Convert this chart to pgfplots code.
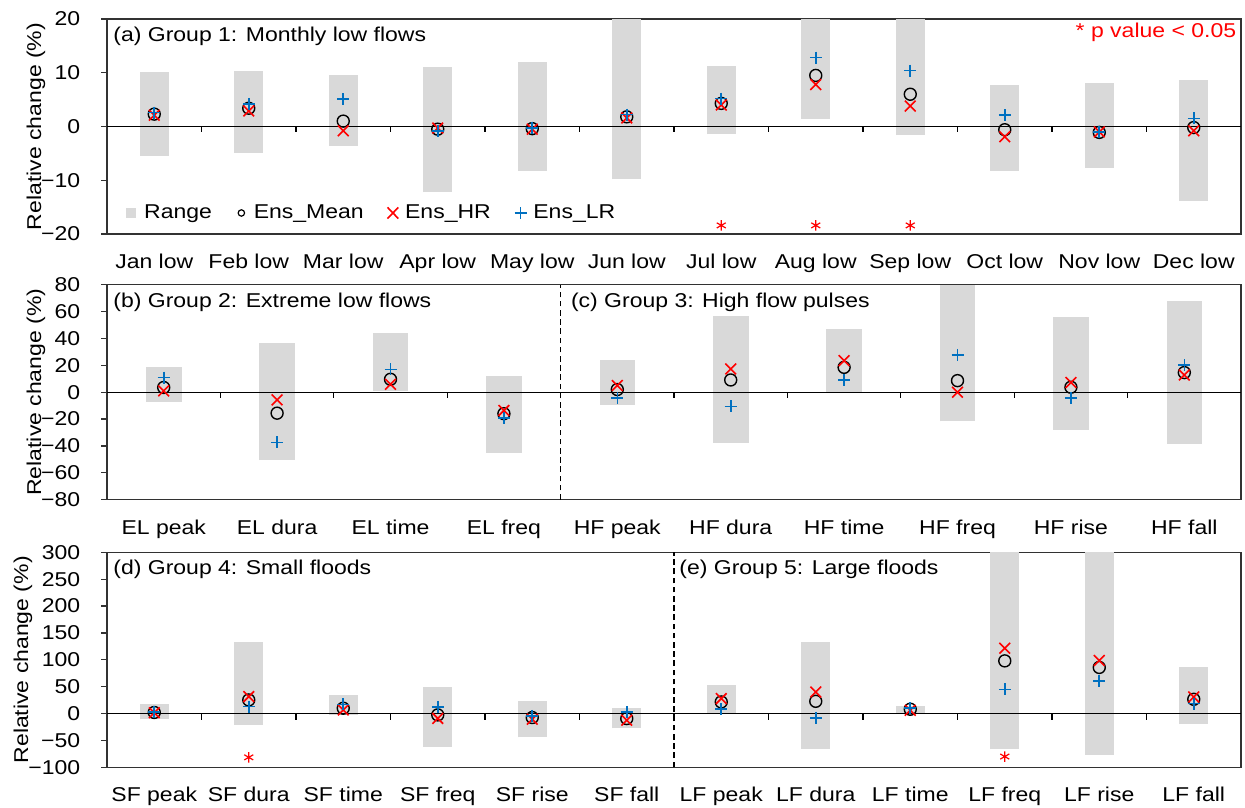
\documentclass[border=0pt]{standalone}
\usepackage{pgfplots}
\pgfplotsset{compat=1.18}
\usepackage{pgfplotstable}
\usepackage{fontspec}
\setmainfont[FakeStretch=1.15]{Liberation Sans}
\definecolor{rangegray}{RGB}{217,217,217}
\definecolor{ensblue}{RGB}{0,112,192}
\definecolor{ensred}{RGB}{255,0,0}
\definecolor{framecol}{RGB}{50,50,50}

% x lo hi mean hr lr
\pgfplotstableread{
x lo hi mean hr lr
1 -5.4 10.2 2.3 2.1 2.6
2 -4.9 10.3 3.4 2.9 4.2
3 -3.6 9.5 1.0 -0.8 5.1
4 -12.2 11.0 -0.5 -0.3 -0.8
5 -8.2 12.0 -0.4 -0.5 -0.3
6 -9.8 20 1.8 1.6 2.2
7 -1.4 11.2 4.3 4.0 5.2
8 1.4 20 9.5 7.8 12.8
9 -1.6 20 6.0 3.8 10.4
10 -8.2 7.8 -0.6 -1.9 2.1
11 -7.7 8.1 -1.1 -1.0 -1.0
12 -13.8 8.6 -0.2 -0.8 1.5
}\gone
\pgfplotstableread{
x y
7 -18.4
8 -18.4
9 -18.4
}\sigone
\pgfplotstableread{
x lo hi mean hr lr
1 -7.2 19 3.5 1.0 10.9
2 -50.6 36.3 -15.6 -5.7 -37.3
3 1.0 44.4 9.6 5.9 17.0
4 -45 11.9 -16 -13.6 -19.3
5 -9.4 24 2.0 5.0 -4.5
6 -37.5 56.8 9.1 17.3 -10.6
7 0.5 47.4 18.5 23.5 9.1
8 -21.7 80 8.6 0 27.7
9 -28.1 56 3.7 7.2 -4.4
10 -38.3 67.9 14.6 12.8 20.2
}\gtwo
\pgfplotstableread{
x lo hi mean hr lr
1 -11 17.3 2 1.5 2.5
2 -21 132.7 25.3 31.5 13
3 -2 34 9.9 6.8 17
4 -61.7 49.4 -2.5 -9 12.3
5 -44.4 24 -7.4 -10.5 -4.3
6 -27.8 10.5 -9.3 -12.3 3
7 0 52.5 21.6 27.8 8
8 -65.4 132.7 22.8 40.1 -8
9 0 14.8 8 6 10.5
10 -66 300 98 121.6 45
11 -76.5 300 85.8 98.8 60.5
12 -19.8 87 26.5 30.9 18.5
}\gthree
\pgfplotstableread{
x y
2 -81.5
10 -80
}\sigthree

\pgfplotsset{
  base/.style={
    scale only axis, width=567pt, height=107.5pt,
    xmin=0.5,
    axis line style={draw=framecol, line width=0.6pt},
    xtick pos=bottom, ytick pos=left,
    tick align=outside, major tick length=3pt,
    xtick style={draw=none},
    ytick style={draw=framecol, line width=0.6pt},
    xticklabel style={anchor=base, yshift=-14.3pt},
    yticklabel style={anchor=east, inner sep=0pt, xshift=-10.2pt},
    ylabel={Relative change (\%)},
    every axis y label/.style={at={(axis description cs:-0.0626,0.5)}, anchor=center, rotate=90},
    clip=true,
  },
  rng/.style={draw=none, mark=none, forget plot,
    error bars/.cd, y dir=plus, y explicit, error mark=none,
    error bar style={draw=rangegray, line width=#1}},
  mmean/.style={only marks, mark=o, mark size=3pt, black, line width=0.7pt, forget plot},
  mhr/.style={only marks, mark=x, mark size=3.8pt, ensred, line width=0.8pt, forget plot},
  mlr/.style={only marks, mark=+, mark size=3pt, ensblue, line width=0.8pt, forget plot},
  msig/.style={only marks, mark=asterisk, mark size=2.6pt, ensred, line width=0.6pt, forget plot},
}

\begin{document}
\begin{tikzpicture}
\useasboundingbox (0,0) rectangle (622.5pt,403.5pt);

% ---------- Panel (a)
\begin{axis}[base, at={(53.5pt,286.5pt)}, anchor=south west,
  xmax=12.5, ymin=-20, ymax=20,
  ytick={-20,-10,0,10,20}, yticklabels={−20,−10,0,10,20},
  xtick={1,...,12},
  xticklabels={Jan low,Feb low,Mar low,Apr low,May low,Jun low,Jul low,Aug low,Sep low,Oct low,Nov low,Dec low},
  legend style={at={(axis description cs:0,0.0977)}, anchor=west, xshift=9pt,
    draw=none, fill=none, inner sep=0pt, legend columns=4,
    cells={anchor=west}, nodes={inner sep=3pt},
    /tikz/every even column/.append style={column sep=8.5pt}},
]
\addplot[rng=14.5pt] table[x=x, y=lo, y error plus expr=\thisrow{hi}-\thisrow{lo}] {\gone};
\draw[black, line width=0.6pt] (axis cs:0.5,0) -- (axis cs:12.5,0);
\pgfplotsinvokeforeach{1.5,2.5,...,11.5}{\draw[black, line width=0.6pt] (axis cs:#1,0) -- ++(0pt,-3pt);}
\addplot[mmean] table[x=x, y=mean] {\gone};
\addplot[mhr] table[x=x, y=hr] {\gone};
\addplot[mlr] table[x=x, y=lr] {\gone};
\addplot[msig] table[x=x, y=y] {\sigone};
\addlegendimage{legend image code/.code={\fill[rangegray] (0.5pt,-2.3pt) rectangle (5pt,2.3pt); \path (0pt,0pt) (6pt,0pt);}}
\addlegendentry{Range}
\addlegendimage{legend image code/.code={\draw[black, line width=0.6pt] (3pt,0pt) circle (1.6pt); \path (0pt,0pt) (6pt,0pt);}}
\addlegendentry{Ens\_Mean}
\addlegendimage{legend image code/.code={\draw[ensred, line width=0.8pt] (0.3pt,-2.8pt) -- (5.7pt,2.8pt) (0.3pt,2.8pt) -- (5.7pt,-2.8pt);}}
\addlegendentry{Ens\_HR}
\addlegendimage{legend image code/.code={\draw[ensblue, line width=0.8pt] (0pt,0pt) -- (6pt,0pt) (3pt,-3pt) -- (3pt,3pt);}}
\addlegendentry{Ens\_LR}
\node[anchor=west, inner sep=0pt, xshift=3pt, yshift=-8.7pt] at (rel axis cs:0,1) {(a) Group 1: Monthly low flows};
\node[anchor=east, inner sep=0pt, xshift=-2.2pt, yshift=-6.8pt, text=ensred] at (rel axis cs:1,1) {* p value < 0.05};
\end{axis}

% ---------- Panels (b) and (c)
\begin{axis}[base, at={(53.5pt,153.65pt)}, anchor=south west,
  xmax=10.5, ymin=-80, ymax=80,
  ytick={-80,-60,...,80}, yticklabels={−80,−60,−40,−20,0,20,40,60,80},
  xtick={1,...,10},
  xticklabels={EL peak,EL dura,EL time,EL freq,HF peak,HF dura,HF time,HF freq,HF rise,HF fall},
]
\addplot[rng=17.8pt] table[x=x, y=lo, y error plus expr=\thisrow{hi}-\thisrow{lo}] {\gtwo};
\draw[black, line width=0.6pt] (axis cs:0.5,0) -- (axis cs:10.5,0);
\pgfplotsinvokeforeach{1.5,2.5,...,9.5}{\draw[black, line width=0.6pt] (axis cs:#1,0) -- ++(0pt,-3pt);}
\draw[black, line width=0.6pt, dash pattern=on 2.8pt off 1.8pt] (axis cs:4.5,-80) -- (axis cs:4.5,80);
\addplot[mmean] table[x=x, y=mean] {\gtwo};
\addplot[mhr] table[x=x, y=hr] {\gtwo};
\addplot[mlr] table[x=x, y=lr] {\gtwo};
\node[anchor=west, inner sep=0pt, xshift=3pt, yshift=-9pt] at (rel axis cs:0,1) {(b) Group 2: Extreme low flows};
\node[anchor=west, inner sep=0pt, xshift=5pt, yshift=-9pt] at (axis cs:4.5,80) {(c) Group 3: High flow pulses};
\end{axis}

% ---------- Panels (d) and (e)
\begin{axis}[base, at={(53.5pt,19.85pt)}, anchor=south west,
  xmax=12.5, ymin=-100, ymax=300,
  ytick={-100,-50,...,300}, yticklabels={−100,−50,0,50,100,150,200,250,300},
  every axis y label/.style={at={(axis description cs:-0.0741,0.5)}, anchor=center, rotate=90},
  xtick={1,...,12},
  xticklabels={SF peak,SF dura,SF time,SF freq,SF rise,SF fall,LF peak,LF dura,LF time,LF freq,LF rise,LF fall},
]
\addplot[rng=14.7pt] table[x=x, y=lo, y error plus expr=\thisrow{hi}-\thisrow{lo}] {\gthree};
\draw[black, line width=0.6pt] (axis cs:0.5,0) -- (axis cs:12.5,0);
\pgfplotsinvokeforeach{1.5,2.5,...,11.5}{\draw[black, line width=0.6pt] (axis cs:#1,0) -- ++(0pt,-3pt);}
\draw[black, line width=0.6pt, dash pattern=on 2.8pt off 1.8pt] (axis cs:6.5,-100) -- (axis cs:6.5,300);
\addplot[mmean] table[x=x, y=mean] {\gthree};
\addplot[mhr] table[x=x, y=hr] {\gthree};
\addplot[mlr] table[x=x, y=lr] {\gthree};
\addplot[msig] table[x=x, y=y] {\sigthree};
\node[anchor=west, inner sep=0pt, xshift=3pt, yshift=-8.4pt] at (rel axis cs:0,1) {(d) Group 4: Small floods};
\node[anchor=west, inner sep=0pt, xshift=2.5pt, yshift=-8.4pt] at (axis cs:6.5,300) {(e) Group 5: Large floods};
\end{axis}
\end{tikzpicture}
\end{document}
